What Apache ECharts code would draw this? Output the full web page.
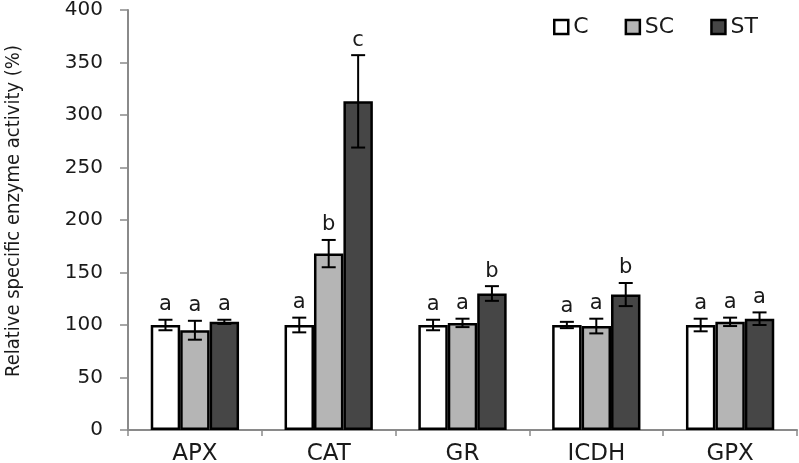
<!DOCTYPE html>
<html>
<head>
<meta charset="utf-8">
<script src="https://cdn.jsdelivr.net/npm/echarts@6/dist/echarts.min.js"></script>
<style>html,body{margin:0;padding:0;background:#fff}#c{width:799px;height:463px}</style>
</head>
<body>
<div id="c"></div>
<script>
var categories = ['APX', 'CAT', 'GR', 'ICDH', 'GPX'];
var seriesNames = ['C', 'SC', 'ST'];
var cMean = [100, 100, 100, 100, 100];
var cErr = [5, 7, 5, 3, 6];
var scMean = [95, 168, 102, 99, 103];
var scErr = [9, 13, 4, 7, 4];
var stMean = [103, 313, 130, 129, 106];
var stErr = [2, 44, 7, 11, 6];
var cLetters = ['a', 'a', 'a', 'a', 'a'];
var scLetters = ['a', 'b', 'a', 'a', 'a'];
var stLetters = ['a', 'c', 'b', 'b', 'a'];
var yTicks = [0, 50, 100, 150, 200, 250, 300, 350, 400];

var means = [cMean, scMean, stMean];
var errs = [cErr, scErr, stErr];
var letters = [cLetters, scLetters, stLetters];
var fills = ['#ffffff', '#b5b5b5', '#464646'];
var BW = 0.22;
var FONT = 'DejaVu Sans';

var chart = echarts.init(document.getElementById('c'), null, {renderer: 'canvas'});

function errRender(si) {
  return function (params, api) {
    var cat = api.value(0);
    var lo = api.value(1), hi = api.value(2);
    var letter = letters[si][params.dataIndex];
    var pLo = api.coord([cat, lo]);
    var pHi = api.coord([cat, hi]);
    var cw = api.size([1, 0])[0];
    var x = pLo[0] + (si - 1) * cw * BW;
    var cap = 7;
    var st = {stroke: '#000', lineWidth: 2};
    return {
      type: 'group',
      children: [
        {type: 'line', shape: {x1: x, y1: pLo[1], x2: x, y2: pHi[1]}, style: st},
        {type: 'line', shape: {x1: x - cap, y1: pLo[1], x2: x + cap, y2: pLo[1]}, style: st},
        {type: 'line', shape: {x1: x - cap, y1: pHi[1], x2: x + cap, y2: pHi[1]}, style: st},
        {type: 'text', style: {text: letter, x: x, y: pHi[1] - 15, align: 'center', verticalAlign: 'middle', font: '21px "' + FONT + '"', fill: '#1a1a1a'}}
      ]
    };
  };
}

var series = [];
for (var i = 0; i < 3; i++) {
  series.push({
    name: seriesNames[i],
    type: 'bar',
    data: means[i],
    barWidth: (BW * 100) + '%',
    barGap: '0%',
    itemStyle: {color: fills[i], borderColor: '#000', borderWidth: 2.5},
    emphasis: {disabled: true},
    z: 2
  });
}
for (var j = 0; j < 3; j++) {
  var d = [];
  for (var k = 0; k < categories.length; k++) {
    d.push([k, means[j][k] - errs[j][k], means[j][k] + errs[j][k]]);
  }
  series.push({
    type: 'custom',
    renderItem: errRender(j),
    data: d,
    encode: {x: 0, y: [1, 2]},
    z: 5,
    silent: true
  });
}

chart.setOption({
  animation: false,
  backgroundColor: '#fff',
  grid: {left: 128, right: 2, top: 10, bottom: 33, containLabel: false, outerBoundsMode: 'none'},
  legend: {
    left: 548, top: 11,
    itemWidth: 14, itemHeight: 14, itemGap: 36,
    icon: 'rect',
    textStyle: {fontFamily: FONT, fontSize: 22, color: '#1a1a1a'},
    data: seriesNames.map(function (n, i) {
      return {name: n, itemStyle: {color: fills[i], borderColor: '#000', borderWidth: 2.5}};
    })
  },
  xAxis: {
    type: 'category',
    data: categories,
    axisLine: {lineStyle: {color: '#8a8a8a', width: 2}},
    axisTick: {show: true, length: 6, lineStyle: {color: '#8a8a8a', width: 1.5}},
    axisLabel: {fontFamily: FONT, fontSize: 23, color: '#1a1a1a', margin: 13}
  },
  yAxis: {
    type: 'value',
    min: yTicks[0], max: yTicks[yTicks.length - 1], interval: yTicks[1] - yTicks[0],
    splitLine: {show: false},
    axisLine: {show: true, lineStyle: {color: '#8a8a8a', width: 2}},
    axisTick: {show: true, length: 8, lineStyle: {color: '#8a8a8a', width: 1.5}},
    axisLabel: {fontFamily: FONT, fontSize: 20, color: '#1a1a1a', margin: 25}
  },
  graphic: [{
    type: 'text',
    x: 14, y: 211,
    rotation: Math.PI / 2,
    style: {
      text: 'Relative specific enzyme activity (%)',
      font: '20px "Liberation Sans Narrow", "DejaVu Sans Condensed", sans-serif',
      fill: '#1a1a1a', align: 'center', verticalAlign: 'middle'
    }
  }],
  series: series
});
</script>
</body>
</html>
